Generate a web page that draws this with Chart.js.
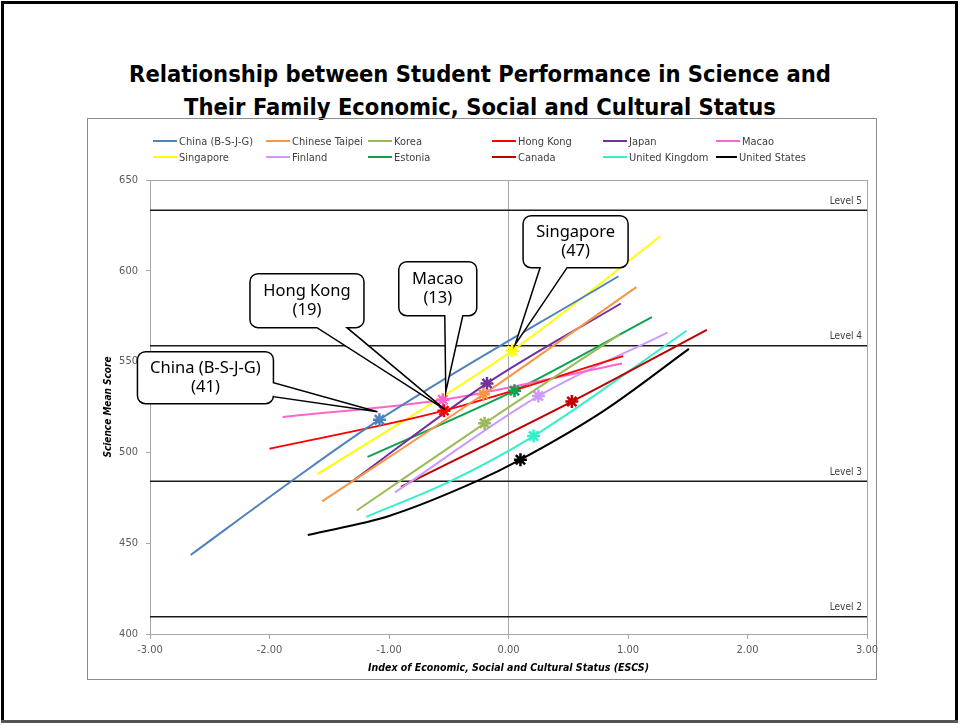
<!DOCTYPE html>
<html>
<head>
<meta charset="utf-8">
<script src="https://cdn.jsdelivr.net/npm/chart.js@4.4.0/dist/chart.umd.min.js"></script>
<style>
  html, body { margin: 0; padding: 0; background: #fff; overflow: hidden; }
  #slide { position: relative; width: 960px; height: 725px; overflow: hidden;
    font-family: 'DejaVu Sans Condensed', 'Open Sans', sans-serif; }
  .edge { position: absolute; background: #000; }
  #title { position: absolute; left: 0; top: 58px; width: 960px; text-align: center;
    font-weight: bold; font-size: 23.5px; line-height: 33px; color: #000; }
  #box { position: absolute; left: 87px; top: 118px; width: 790px; height: 562px;
    box-sizing: border-box; border: 1px solid #8c8c8c; }
  #chart { position: absolute; left: 87px; top: 118px; }
  #legend { position: absolute; left: 153px; top: 133px; font-size: 11px; color: #404040; }
  .row { display: flex; height: 16px; align-items: center; }
  .item { display: flex; align-items: center; white-space: nowrap; }
  .swatch { width: 24px; height: 2px; margin-right: 2px; }
</style>
</head>
<body>
<div id="slide">
  <div id="title">Relationship between Student Performance in Science and<br>Their Family Economic, Social and Cultural Status</div>
  <div id="box"></div>
  <canvas id="chart" width="800" height="562"></canvas>
  <div id="legend"></div>
  <div class="edge" style="left:1px;top:1px;width:957px;height:3px"></div>
  <div class="edge" style="left:1px;top:1px;width:3px;height:722px"></div>
  <div class="edge" style="left:955px;top:1px;width:3px;height:722px"></div>
  <div class="edge" style="left:1px;top:720px;width:957px;height:3px;background:#555"></div>
</div>
<script>
// PISA 2015 science: country mean (marker) and socio-economic gradient line
const countries = ['China (B-S-J-G)', 'Chinese Taipei', 'Korea', 'Hong Kong', 'Japan', 'Macao',
  'Singapore', 'Finland', 'Estonia', 'Canada', 'United Kingdom', 'United States'];
const lineColors = ['#4F81BD', '#F79646', '#9BBB59', '#FF0000', '#7030A0', '#FF66CC',
  '#FFFF00', '#CC99FF', '#0FA050', '#C00000', '#33F0CC', '#000000'];

const meanEscs = [-1.08, -0.21, -0.20, -0.54, -0.18, -0.55, 0.03, 0.25, 0.05, 0.53, 0.21, 0.10];
const meanScore = [518, 532, 516, 523, 538, 529, 556, 531, 534, 528, 509, 496];

const chinaEscs = [-2.66, -1.82, -1.08, 0.92];     const chinaScore = [443.5, 484, 518, 597];
const taipeiEscs = [-1.56, -0.21, 1.07];           const taipeiScore = [473, 532, 591];
const koreaEscs = [-1.27, -0.20, 0.93];            const koreaScore = [468, 516, 565];
const hongKongEscs = [-2.00, -0.54, 0.96];         const hongKongScore = [502, 523, 553];
const japanEscs = [-1.33, -0.18, 0.94];            const japanScore = [483, 538, 582];
const macaoEscs = [-1.89, -0.55, 0.95];            const macaoScore = [519.5, 529, 549];
const singaporeEscs = [-1.60, 0.03, 1.27];         const singaporeScore = [488, 556, 619];
const finlandEscs = [-0.95, 0.25, 1.33];           const finlandScore = [478, 531, 566];
const estoniaEscs = [-1.18, 0.05, 1.20];           const estoniaScore = [497.5, 534, 574.5];
const canadaEscs = [-0.90, 0.53, 1.66];            const canadaScore = [481, 528, 567.5];
const ukEscs = [-1.19, -0.49, 0.21, 1.49];         const ukScore = [464.5, 484, 509, 567];
const usEscs = [-1.68, -1.00, -0.27, 0.10, 0.80, 1.51];
const usScore = [454.5, 465, 484, 496, 523, 557];

const gradientEscs = [chinaEscs, taipeiEscs, koreaEscs, hongKongEscs, japanEscs, macaoEscs,
  singaporeEscs, finlandEscs, estoniaEscs, canadaEscs, ukEscs, usEscs];
const gradientScore = [chinaScore, taipeiScore, koreaScore, hongKongScore, japanScore, macaoScore,
  singaporeScore, finlandScore, estoniaScore, canadaScore, ukScore, usScore];

// proficiency level thresholds
const levelNames = ['Level 5', 'Level 4', 'Level 3', 'Level 2'];
const levelScores = [633.33, 558.73, 484.14, 409.54];

// callouts: country index, text (rank)
const calloutIdx = [0, 3, 5, 6];
const calloutText = [['China (B-S-J-G)', '(41)'], ['Hong Kong', '(19)'], ['Macao', '(13)'], ['Singapore', '(47)']];

const FONT = "'DejaVu Sans Condensed', 'Open Sans', sans-serif";
Chart.defaults.font.family = FONT;

// legend (html, fixed columns like the original)
const colW = [113, 102, 124, 111, 113, 90];
const legend = document.getElementById('legend');
for (let r = 0; r < 2; r++) {
  const row = document.createElement('div');
  row.className = 'row';
  for (let c = 0; c < 6; c++) {
    const i = r * 6 + c;
    const it = document.createElement('div');
    it.className = 'item';
    it.style.width = colW[c] + 'px';
    it.innerHTML = '<span class="swatch" style="background:' + lineColors[i] + '"></span>' + countries[i];
    row.appendChild(it);
  }
  legend.appendChild(row);
}

const datasets = [];
countries.forEach((name, i) => {
  datasets.push({
    label: name,
    data: gradientEscs[i].map((x, k) => ({ x: x, y: gradientScore[i][k] })),
    showLine: true,
    borderColor: lineColors[i],
    borderWidth: 2,
    pointRadius: 0,
    cubicInterpolationMode: 'monotone',
    order: 5
  });
  datasets.push({
    label: name + ' mean',
    data: [{ x: meanEscs[i], y: meanScore[i] }],
    pointStyle: 'star',
    pointRadius: 6.5,
    borderWidth: 2.5,
    borderColor: lineColors[i],
    backgroundColor: lineColors[i],
    order: 1
  });
});
levelScores.forEach((s, i) => {
  datasets.push({
    label: levelNames[i],
    data: [{ x: -3, y: s }, { x: 3, y: s }],
    showLine: true,
    borderColor: '#1a1a1a',
    borderWidth: 1.5,
    pointRadius: 0,
    order: 10
  });
});

const offsets = [
  { dx: -242, dy: -68, w: 136, h: 52, side: 'right', a: 31, b: 45, tx: -2, ty: -8 },
  { dx: -194, dy: -137, w: 114, h: 54, side: 'bottom', a: 67, b: 97, tx: 1, ty: -1 },
  { dx: -44, dy: -138, w: 78, h: 54, side: 'bottom', a: 46, b: 64, tx: 3, ty: -8 },
  { dx: 11, dy: -135, w: 105, h: 52, side: 'bottom', a: 17, b: 44, tx: 3, ty: -6 }
];

function bubble(ctx, x, y, w, h, r, o, tipX, tipY) {
  ctx.beginPath();
  ctx.moveTo(x + r, y);
  ctx.lineTo(x + w - r, y);
  ctx.arcTo(x + w, y, x + w, y + r, r);
  if (o.side === 'right') {
    ctx.lineTo(x + w, y + o.a);
    ctx.lineTo(tipX, tipY);
    ctx.lineTo(x + w, y + o.b);
  }
  ctx.lineTo(x + w, y + h - r);
  ctx.arcTo(x + w, y + h, x + w - r, y + h, r);
  if (o.side === 'bottom') {
    ctx.lineTo(x + o.b, y + h);
    ctx.lineTo(tipX, tipY);
    ctx.lineTo(x + o.a, y + h);
  }
  ctx.lineTo(x + r, y + h);
  ctx.arcTo(x, y + h, x, y + h - r, r);
  ctx.lineTo(x, y + r);
  ctx.arcTo(x, y, x + r, y, r);
  ctx.closePath();
}

const decor = {
  id: 'decor',
  beforeDatasetsDraw(chart) {
    const { ctx, chartArea: a } = chart;
    ctx.save();
    ctx.strokeStyle = '#a6a6a6';
    ctx.lineWidth = 1;
    ctx.strokeRect(a.left + 0.5, a.top + 0.5, a.right - a.left, a.bottom - a.top);
    ctx.restore();
  },
  afterDatasetsDraw(chart) {
    const { ctx, chartArea: a, scales } = chart;
    ctx.save();
    // level labels
    ctx.font = '10px ' + FONT;
    ctx.fillStyle = '#404040';
    ctx.textAlign = 'right';
    ctx.textBaseline = 'middle';
    levelScores.forEach((s, i) => {
      ctx.fillText(levelNames[i], a.right - 5, scales.y.getPixelForValue(s) - 9);
    });
    // callouts
    calloutIdx.forEach((ci, k) => {
      const o = offsets[k];
      const mx = scales.x.getPixelForValue(meanEscs[ci]);
      const my = scales.y.getPixelForValue(meanScore[ci]);
      const bx = mx + o.dx, by = my + o.dy;
      bubble(ctx, bx, by, o.w, o.h, 8, o, mx + o.tx, my + o.ty);
      ctx.fillStyle = '#fff';
      ctx.fill();
      ctx.strokeStyle = '#000';
      ctx.lineWidth = 1.5;
      ctx.stroke();
      ctx.fillStyle = '#000';
      ctx.textAlign = 'center';
      ctx.font = "16.5px 'Noto Sans', 'Open Sans', sans-serif";
      ctx.fillText(calloutText[k][0], bx + o.w / 2, by + o.h / 2 - 9);
      ctx.fillText(calloutText[k][1], bx + o.w / 2, by + o.h / 2 + 10);
    });
    ctx.restore();
  }
};

new Chart(document.getElementById('chart'), {
  type: 'scatter',
  data: { datasets: datasets },
  options: {
    responsive: false,
    animation: false,
    layout: { padding: { top: 62, right: 20, left: 0, bottom: 0 } },
    plugins: { legend: { display: false }, tooltip: { enabled: false } },
    scales: {
      x: {
        type: 'linear', min: -3, max: 3,
        ticks: { stepSize: 1, callback: v => v.toFixed(2), color: '#595959', font: { size: 11 }, padding: 5 },
        grid: {
          color: c => (c.tick && c.tick.value === 0) ? '#a6a6a6' : 'rgba(0,0,0,0)',
          tickColor: '#a6a6a6', tickLength: 5
        },
        border: { display: false },
        title: { display: true, text: 'Index of Economic, Social and Cultural Status (ESCS)', color: '#000',
          font: { size: 10.5, weight: 'bold', style: 'italic' }, padding: { top: 0, bottom: 5 } },
        afterFit: s => { s.height = 46; }
      },
      y: {
        min: 400, max: 650,
        ticks: { stepSize: 50, color: '#595959', font: { size: 11 }, padding: 8 },
        grid: { drawOnChartArea: false, tickColor: '#a6a6a6', tickLength: 4, color: '#a6a6a6' },
        border: { display: false },
        title: { display: true, text: 'Science Mean Score', color: '#000',
          font: { size: 10, weight: 'bold', style: 'italic' }, padding: { top: 15, bottom: 0 } },
        afterFit: s => { s.width = 63; }
      }
    }
  },
  plugins: [decor]
});
</script>
</body>
</html>
